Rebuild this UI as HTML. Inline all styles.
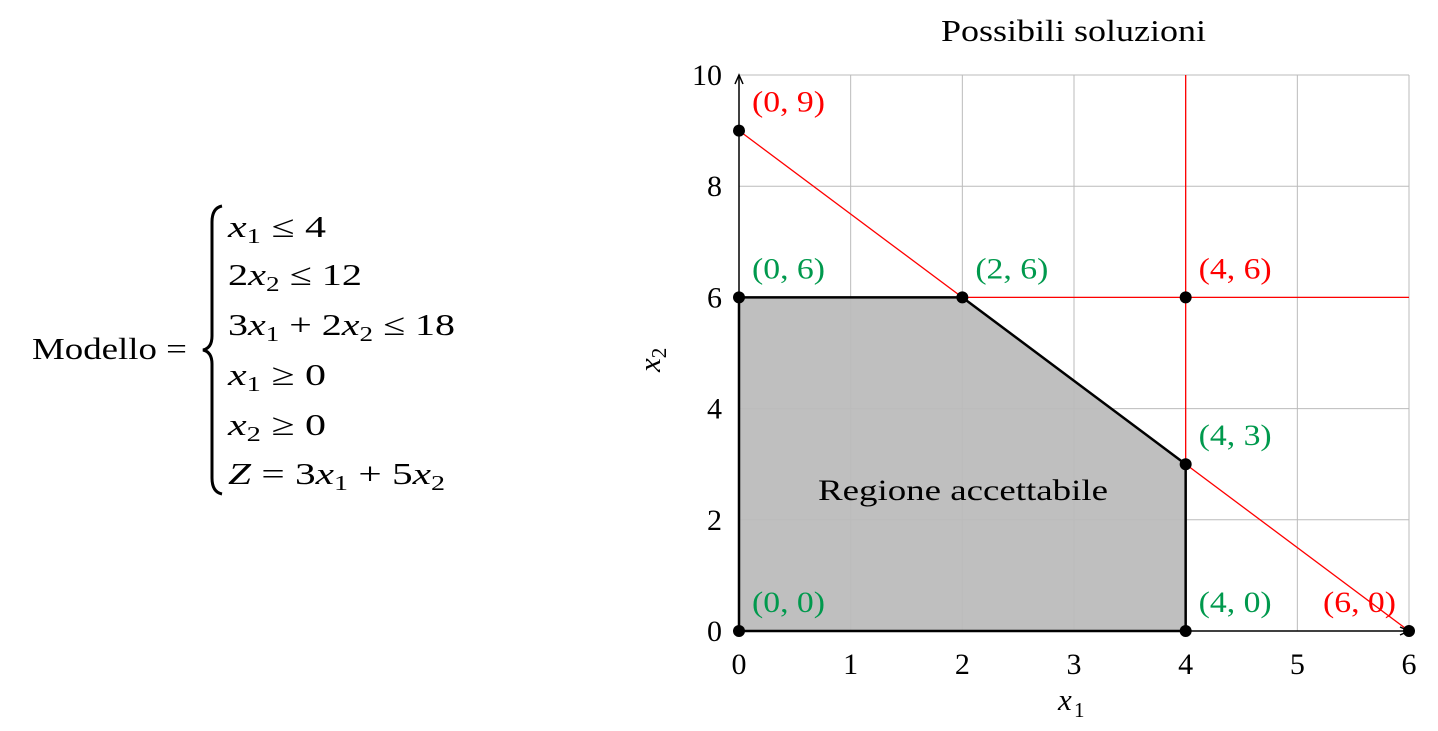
<!DOCTYPE html>
<html><head><meta charset="utf-8"><style>
body{margin:0;background:#fff}
svg text{font-family:"Liberation Serif",serif}
.it{font-style:italic}
</style></head><body>
<svg width="1438" height="726" xmlns="http://www.w3.org/2000/svg" id="svg">
<g font-size="31" fill="#000">
<text x="32" y="359" textLength="155" lengthAdjust="spacingAndGlyphs">Modello =</text>
<path d="M222,206 Q212,208 212,222 L212,336 Q212,348 203,350 Q212,352 212,364 L212,478 Q212,492 222,494" fill="none" stroke="#000" stroke-width="3"/>
<text x="228" y="237" textLength="98" lengthAdjust="spacingAndGlyphs"><tspan class="it">x</tspan><tspan font-size="21" dy="6">1</tspan><tspan dy="-6"> ≤ 4</tspan></text>
<text x="228" y="285" textLength="134" lengthAdjust="spacingAndGlyphs">2<tspan class="it">x</tspan><tspan font-size="21" dy="6">2</tspan><tspan dy="-6"> ≤ 12</tspan></text>
<text x="228" y="335" textLength="227" lengthAdjust="spacingAndGlyphs">3<tspan class="it">x</tspan><tspan font-size="21" dy="6">1</tspan><tspan dy="-6"> + 2</tspan><tspan class="it">x</tspan><tspan font-size="21" dy="6">2</tspan><tspan dy="-6"> ≤ 18</tspan></text>
<text x="228" y="385" textLength="98" lengthAdjust="spacingAndGlyphs"><tspan class="it">x</tspan><tspan font-size="21" dy="6">1</tspan><tspan dy="-6"> ≥ 0</tspan></text>
<text x="228" y="435" textLength="98" lengthAdjust="spacingAndGlyphs"><tspan class="it">x</tspan><tspan font-size="21" dy="6">2</tspan><tspan dy="-6"> ≥ 0</tspan></text>
<text x="228" y="484" textLength="217" lengthAdjust="spacingAndGlyphs"><tspan class="it">Z</tspan> = 3<tspan class="it">x</tspan><tspan font-size="21" dy="6">1</tspan><tspan dy="-6"> + 5</tspan><tspan class="it">x</tspan><tspan font-size="21" dy="6">2</tspan></text>
</g>
<g id="plot"></g>
</svg>
<script>
const xTicks=[0,1,2,3,4,5,6];
const yTicks=[0,2,4,6,8,10];
const regionX=[0,0,2,4,4];
const regionY=[0,6,6,3,0];
const pointX=[0,0,2,4,4,0,4,6];
const pointY=[0,6,6,3,0,9,6,0];
const labelText=["(0, 0)","(0, 6)","(2, 6)","(4, 3)","(4, 0)","(0, 9)","(4, 6)","(6, 0)"];
const labelFeasible=[1,1,1,1,1,0,0,0];
const X=v=>739+v*(1409-739)/6, Y=v=>631-v*(631-75)/10;
const NS="http://www.w3.org/2000/svg", g=document.getElementById('plot');
function mk(t,a,txt){const e=document.createElementNS(NS,t);for(const k in a)e.setAttribute(k,a[k]);if(txt!=null)e.textContent=txt;g.appendChild(e);return e;}
let e;
e=mk('polygon',{points:regionX.map((x,i)=>X(x)+','+Y(regionY[i])).join(' '),fill:'#bfbfbf'});


xTicks.forEach(t=>{e=mk('line',{x1:X(t),x2:X(t),y1:Y(0),y2:Y(10),stroke:'#bbb','stroke-width':1});


e=mk('text',{x:X(t),y:Y(0)+43,'text-anchor':'middle','font-size':30},t);

});
yTicks.forEach(t=>{e=mk('line',{x1:X(0),x2:X(6),y1:Y(t),y2:Y(t),stroke:'#bbb','stroke-width':1});


e=mk('text',{x:X(0)-17,y:Y(t)+10,'text-anchor':'end','font-size':30},t);

});
e=mk('line',{x1:X(0),y1:Y(9),x2:X(6),y2:Y(0),stroke:'red','stroke-width':1.3});


e=mk('line',{x1:X(4),y1:Y(0),x2:X(4),y2:Y(10),stroke:'red','stroke-width':1.3});


e=mk('line',{x1:X(0),y1:Y(6),x2:X(6),y2:Y(6),stroke:'red','stroke-width':1.3});


e=mk('polyline',{points:regionX.map((x,i)=>X(x)+','+Y(regionY[i])).join(' ')+' '+X(0)+','+Y(0),fill:'none',stroke:'#000','stroke-width':2.5});


e=mk('path',{d:`M${X(0)},${Y(0)}H${X(6)} M${X(0)},${Y(0)}V${Y(10)}`,stroke:'#000','stroke-width':1.5,fill:'none'});


e=mk('path',{d:`M${X(6)-9},${Y(0)-4}L${X(6)},${Y(0)}L${X(6)-9},${Y(0)+4} M${X(0)-4},${Y(10)+9}L${X(0)},${Y(10)}L${X(0)+4},${Y(10)+9}`,stroke:'#000','stroke-width':1.5,fill:'none'});


pointX.forEach((x,i)=>{e=mk('circle',{cx:X(x),cy:Y(pointY[i]),r:6,fill:'#000'});


const right=x===6;
e=mk('text',{x:right?X(x)-86:X(x)+13,y:Y(pointY[i])-19,'font-size':30,textLength:73,lengthAdjust:'spacingAndGlyphs',fill:labelFeasible[i]?'#00994d':'#f00'},labelText[i]);

});
e=mk('text',{x:818,y:500,'font-size':30,textLength:290,lengthAdjust:'spacingAndGlyphs'},'Regione accettabile');


e=mk('text',{x:941,y:41,'font-size':31,textLength:265,lengthAdjust:'spacingAndGlyphs'},'Possibili soluzioni');


e=mk('text',{x:1058,y:710,'font-size':31,'font-style':'italic'},'x');


e=mk('text',{x:1074,y:717,'font-size':21},'1');


e=mk('text',{x:0,y:0,'font-size':31,transform:'translate(660,372) rotate(-90)'},'');
e.innerHTML='<tspan font-style="italic">x</tspan><tspan font-size="21" dy="6">2</tspan>';


</script>
</body></html>
